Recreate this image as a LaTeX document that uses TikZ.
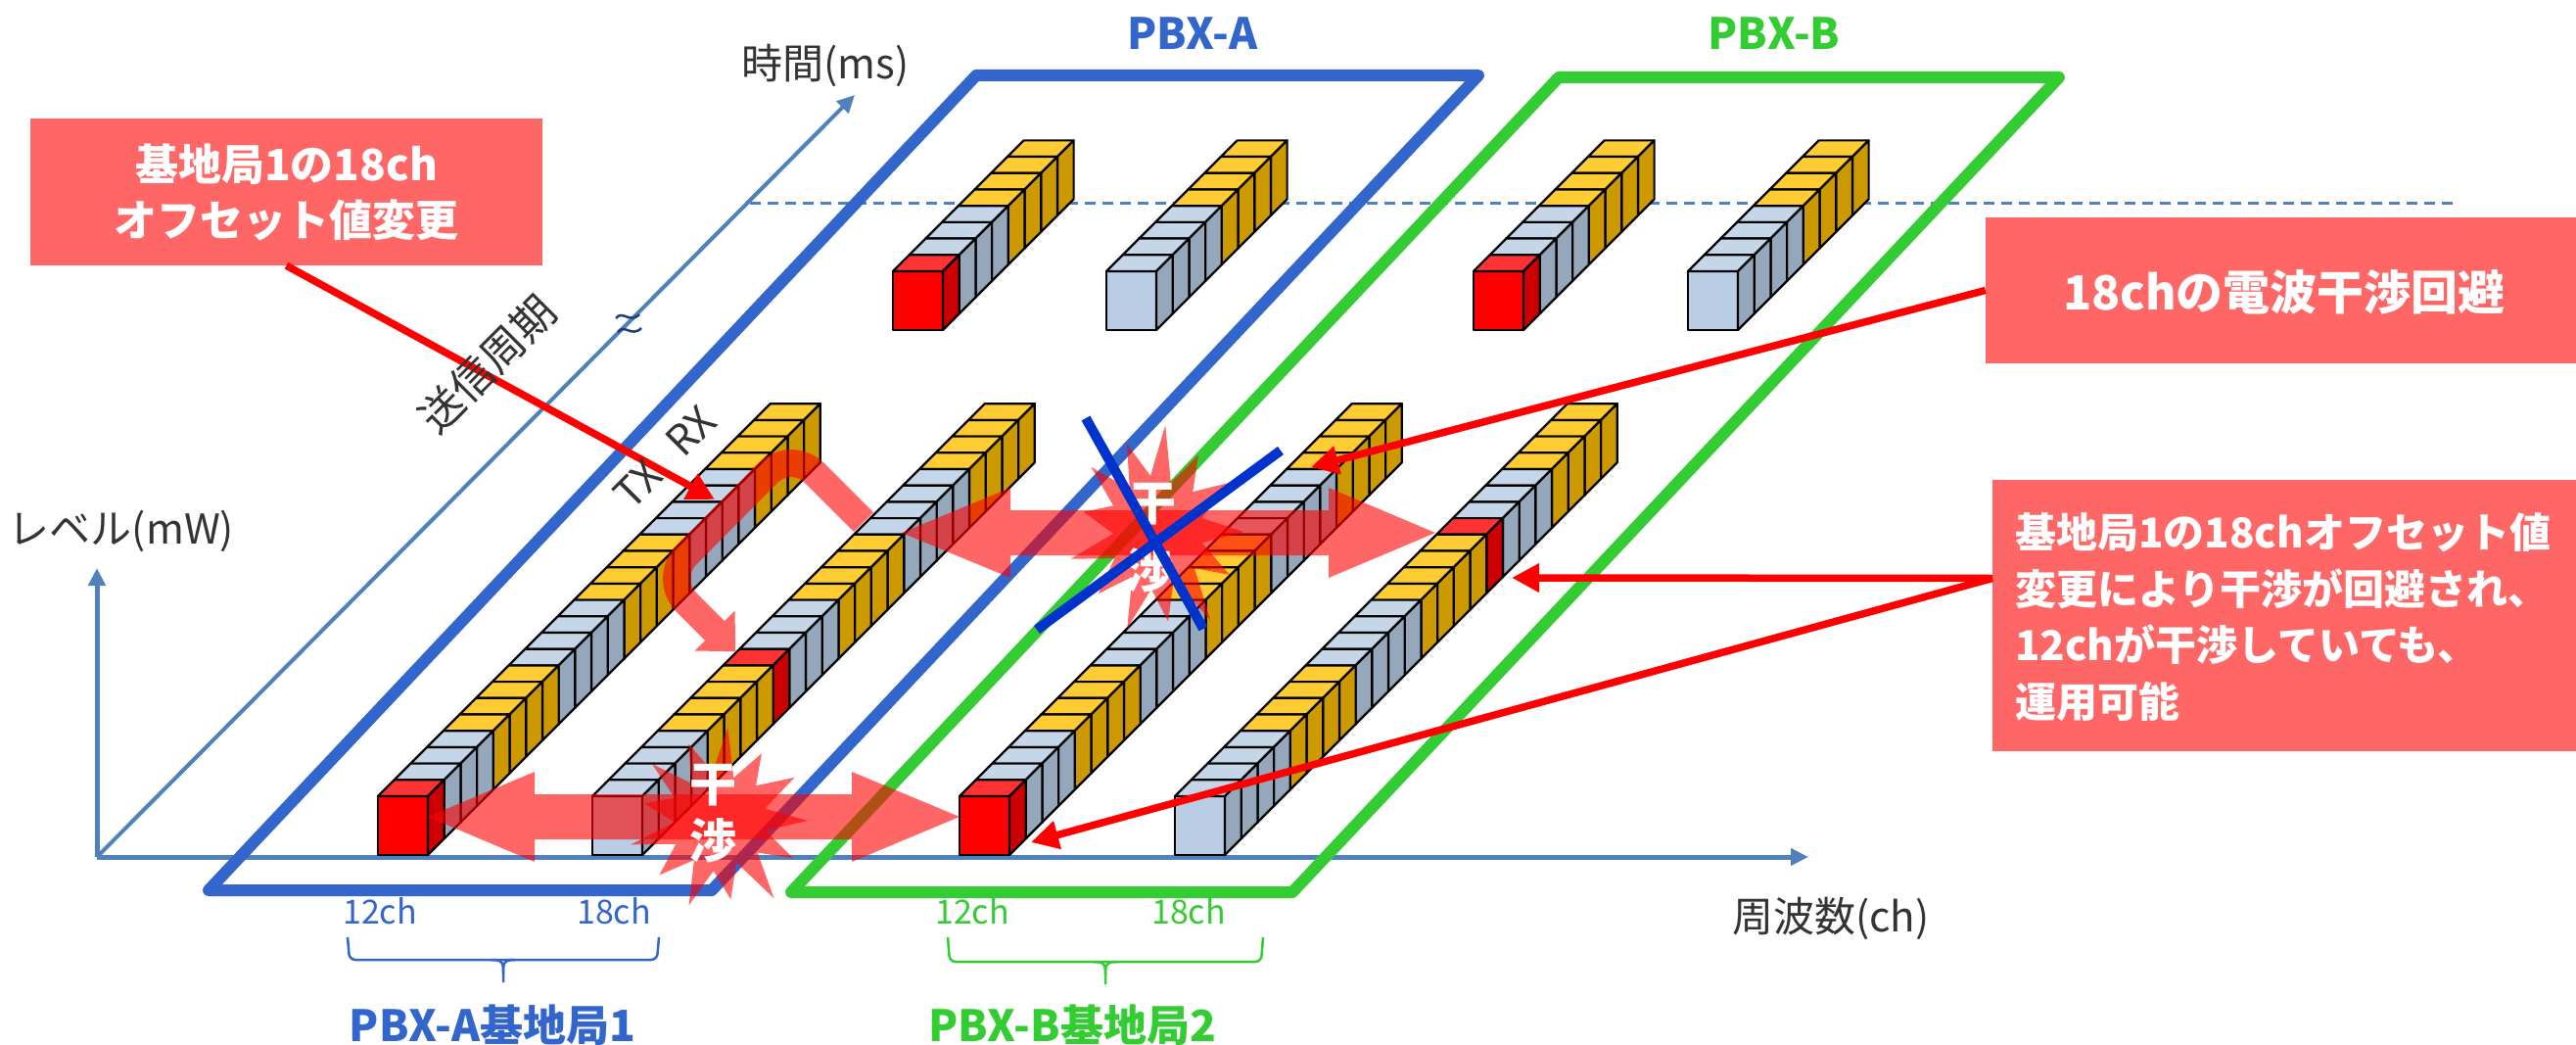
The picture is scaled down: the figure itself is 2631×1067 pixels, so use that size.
\documentclass[tikz,border=0pt]{standalone}
\usepackage{fontspec}
\setmainfont{Noto Sans CJK JP}
\usetikzlibrary{arrows.meta}

\definecolor{pbxa}{HTML}{3366CC}
\definecolor{pbxb}{HTML}{33CC33}
\definecolor{axisblue}{HTML}{4F81BD}
\definecolor{notefill}{HTML}{FF6666}
\definecolor{crossblue}{HTML}{0033CC}
\definecolor{labelgrey}{HTML}{333333}
\definecolor{breakblue}{HTML}{1F3F78}
\definecolor{Ytop}{HTML}{FFCC33}
\definecolor{Yside}{HTML}{CC9900}
\definecolor{Yfront}{HTML}{FFC000}
\definecolor{Btop}{HTML}{C5D6E9}
\definecolor{Bside}{HTML}{95A7BB}
\definecolor{Bfront}{HTML}{B9CDE5}
\definecolor{Rtop}{HTML}{FF3333}
\definecolor{Rside}{HTML}{CC0000}
\definecolor{Rfront}{HTML}{FF0000}

\newcommand\fsz[2]{\fontsize{#1}{#2}\selectfont}

\tikzset{
  cellline/.style={draw=black, line width=2.2pt, line join=round},
  frame/.style={line width=12pt, line join=round, line cap=round},
  haze/.style={fill=red, opacity=0.6},
  axisline/.style={draw=axisblue, line width=5pt, -{Triangle[length=18pt,width=17pt]}},
  guide/.style={draw=axisblue, line width=3pt, dash pattern=on 11pt off 7pt},
  callout/.style={fill=notefill, inner sep=0pt},
  notetext/.style={text=white, font=\bfseries\fsz{44}{57}, align=center, inner sep=0pt},
  pointer/.style={draw=red, line width=7.5pt, -{Triangle[length=28pt,width=28pt]}},
  burstword/.style={text=white, font=\bfseries\fsz{48}{48}, inner sep=0pt},
  xline/.style={draw=crossblue, line width=10pt},
  axislabel/.style={text=labelgrey, font=\fsz{42}{42}, inner sep=0pt},
  chlabel/.style={font=\fsz{34}{34}, inner sep=0pt},
  grouplabel/.style={font=\bfseries\fsz{44}{44}, inner sep=0pt},
  brace/.style={line width=2.5pt, rounded corners=6pt},
}

% one slot: front-top-left corner (#1,#2), colour key #3 (Y, B or R)
\newcommand\slotcell[3]{%
  \filldraw[cellline, fill=#3front] (#1,#2) rectangle ++(51,60);
  \filldraw[cellline, fill=#3top] (#1,#2) -- ++(16.7,-16.7) -- ++(51,0) -- ++(-16.7,16.7) -- cycle;
  \filldraw[cellline, fill=#3side] (#1+51,#2) -- ++(16.7,-16.7) -- ++(0,60) -- ++(-16.7,16.7) -- cycle;
}
% a row of slots along the time axis; #3 cells, keys listed from the back to the front
\newcommand\slotstack[4]{%
  \foreach \ck [count=\cnt] in {#4}{%
    \pgfmathsetmacro\cx{#1+(#3-\cnt)*16.7}%
    \pgfmathsetmacro\cy{#2-(#3-\cnt)*16.7}%
    \edef\cellcmd{\noexpand\slotcell{\cx}{\cy}{\ck}}\cellcmd
  }}

% explosion outline around the origin
\newcommand\burstshape{(0:98) -- (12:52) -- (27:92) -- (40:55) -- (55:105) -- (68:50) -- (82:88) -- (97:56) -- (110:100) -- (123:52) -- (138:90) -- (152:55) -- (165:102) -- (178:50) -- (193:86) -- (207:56) -- (220:98) -- (233:52) -- (248:92) -- (262:55) -- (275:104) -- (288:50) -- (302:88) -- (316:56) -- (330:96) -- (345:52) -- cycle}

\begin{document}
\begin{tikzpicture}[x=1pt, y=-1pt]
\useasboundingbox (0,0) rectangle (2631,1067);
\fill[white] (0,0) rectangle (2631,1067);

% axes
\coordinate (O) at (99,875);
\coordinate (Fend) at (1847,875);
\coordinate (Lend) at (99,580);
\coordinate (Tend) at (873,97);
\coordinate (Dstart) at (766,208);
\coordinate (Dend) at (2506,208);

\draw[guide] (Dstart) -- (Dend);
\draw[axisline, line width=4pt] (O) -- (Tend);
\draw[axisline] (O) -- (Fend);
\draw[axisline] (O) -- (Lend);

% break mark on the time axis
\draw[breakblue, line width=2.5pt] (629,325) .. controls (636,316) and (643,331) .. (653,321);
\draw[breakblue, line width=2.5pt] (631,339) .. controls (638,330) and (645,345) .. (655,335);

% PBX areas
\draw[frame, draw=pbxa] (213,909) -- (997,77) -- (1510,77) -- (727,909) -- cycle;
\draw[frame, draw=pbxb] (808,911) -- (1592,79) -- (2103,79) -- (1320,911) -- cycle;

% later transmission period
\slotstack{912}{277}{8}{Y,Y,Y,Y,B,B,B,R}
\slotstack{1130}{277}{8}{Y,Y,Y,Y,B,B,B,B}
\slotstack{1505}{277}{8}{Y,Y,Y,Y,B,B,B,R}
\slotstack{1724}{277}{8}{Y,Y,Y,Y,B,B,B,B}

% first transmission period
\slotstack{386}{813}{24}{Y,Y,Y,Y,B,B,B,B,Y,Y,Y,Y,B,B,B,B,Y,Y,Y,Y,B,B,B,R}
\slotstack{605}{813}{24}{Y,Y,Y,Y,B,B,B,B,Y,Y,Y,Y,B,B,B,R,Y,Y,Y,Y,B,B,B,B}
\slotstack{980}{813}{24}{Y,Y,Y,Y,B,B,B,B,Y,Y,Y,Y,B,B,B,B,Y,Y,Y,Y,B,B,B,R}
\slotstack{1200}{813}{24}{Y,Y,Y,Y,B,B,B,R,Y,Y,Y,Y,B,B,B,B,Y,Y,Y,Y,B,B,B,B}

% interference arrows
\fill[haze] (437,834) -- (546,788) -- (546,811) -- (870,811) -- (870,788) -- (980,834)
  -- (870,880) -- (870,857) -- (546,857) -- (546,880) -- cycle;
\fill[haze] (921,544) -- (1032,498) -- (1032,521) -- (1357,521) -- (1357,498) -- (1466,544)
  -- (1357,590) -- (1357,567) -- (1032,567) -- (1032,590) -- cycle;
\draw[red, opacity=0.6, line width=28pt, rounded corners=34pt]
  (882,533) -- (808,459) -- (677,591) -- (730,644);
\fill[haze] (750.5,623.5) -- (751.2,665.2) -- (709.5,664.5) -- cycle;

% explosions
\begin{scope}[shift={(735,838)}, scale=0.92]
  \fill[haze] \burstshape;
\end{scope}
\begin{scope}[shift={(1182,543)}, xscale=0.9, yscale=1.05]
  \fill[haze] \burstshape;
\end{scope}
\node[burstword] (wa1) at (728,802) {干};
\node[burstword] (wa2) at (728,858) {渉};
\node[burstword] (wb1) at (1177,515) {干};
\node[burstword] (wb2) at (1174,582) {渉};

% cancelled interference
\draw[xline] (1109,427) -- (1229,642);
\draw[xline] (1308,460) -- (1059,643);

% notes
\node[callout, minimum width=523pt, minimum height=150pt] (note1) at (292.5,196) {};
\node[notetext] (note1t) at (292.5,196) {基地局1の18ch\\オフセット値変更};
\node[callout, minimum width=603pt, minimum height=149pt] (note2) at (2329.5,296.5) {};
\node[notetext, font=\bfseries\fsz{48}{57}] (note2t) at (2333,298) {18chの電波干渉回避};
\node[callout, minimum width=596pt, minimum height=277pt] (note3) at (2333,628.5) {};
\node[notetext, align=left, anchor=west, font=\bfseries\fsz{42}{57.5}] (note3t) at (2058,630)
  {基地局1の18chオフセット値\\変更により干渉が回避され、\\12chが干渉していても、\\運用可能};

\coordinate (s1slot) at (730,510);
\coordinate (s3slot) at (1339,477);
\coordinate (s4slot) at (1544,590);
\coordinate (s3front) at (1053,860);
\draw[pointer] (note1.south) -- (s1slot);
\draw[pointer] (note2.west) -- (s3slot);
\draw[pointer] ([yshift=38pt]note3.west) -- (s4slot);
\draw[pointer] ([yshift=38pt]note3.west) -- (s3front);

% axis and slot labels
\node[axislabel] (tlab) at (843,67) {時間(ms)};
\node[axislabel] (llab) at (124,542) {レベル(mW)};
\node[axislabel] (flab) at (1870,938) {周波数(ch)};
\node[axislabel, font=\fsz{44}{44}, rotate=45] (plab) at (498,372) {送信周期};
\node[axislabel, rotate=45] (trlab) at (679,467) {TX\hspace{28pt}RX};

\node[grouplabel, text=pbxa] (pa) at (1218,34) {PBX-A};
\node[grouplabel, text=pbxb] (pb) at (1812,34) {PBX-B};

\node[chlabel, text=pbxa] (a12) at (388,930) {12ch};
\node[chlabel, text=pbxa] (a18) at (627,930) {18ch};
\node[chlabel, text=pbxb] (b12) at (993,930) {12ch};
\node[chlabel, text=pbxb] (b18) at (1214,930) {18ch};

\draw[brace, draw=pbxa] (355,957) -- (357,980) -- (671,980) -- (673,957);
\draw[line width=2.5pt, draw=pbxa] (502,980) .. controls (514,980) and (514,984) .. (514,994) -- (514,1003);
\draw[line width=2.5pt, draw=pbxa] (526,980) .. controls (514,980) and (514,984) .. (514,994);
\draw[brace, draw=pbxb] (968,957) -- (970,982) -- (1288,982) -- (1290,957);
\draw[line width=2.5pt, draw=pbxb] (1117,982) .. controls (1129,982) and (1129,986) .. (1129,996) -- (1129,1005);
\draw[line width=2.5pt, draw=pbxb] (1141,982) .. controls (1129,982) and (1129,986) .. (1129,996);

\node[grouplabel, text=pbxa] (ga) at (503,1047) {PBX-A基地局1};
\node[grouplabel, text=pbxb] (gb) at (1095,1047) {PBX-B基地局2};
\end{tikzpicture}
\end{document}
